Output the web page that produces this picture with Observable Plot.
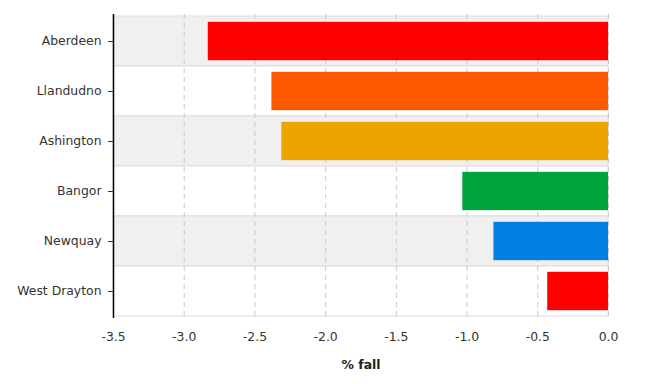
<!DOCTYPE html>
<html>
<head>
<meta charset="utf-8">
<script src="https://cdn.jsdelivr.net/npm/d3@7"></script>
<script src="https://cdn.jsdelivr.net/npm/@observablehq/plot@0.6"></script>
<style>
  html, body { margin: 0; padding: 0; background: #fff; }
  #chart svg { font-family: "DejaVu Sans", Verdana, sans-serif; }
</style>
</head>
<body>
<div id="chart"></div>
<script>
const cities = ["Aberdeen", "Llandudno", "Ashington", "Bangor", "Newquay", "West Drayton"];
const falls = [-2.83, -2.38, -2.31, -1.03, -0.81, -0.43];
const barColors = ["#ff0000", "#ff5a00", "#eba400", "#00a33d", "#0080e0", "#ff0000"];
const shaded = [true, false, true, false, true, false];
const xTicks = [-3.5, -3.0, -2.5, -2.0, -1.5, -1.0, -0.5, 0.0];
const xLabel = "% fall";

const rows = cities.map((c, i) => ({city: c, fall: falls[i], color: barColors[i], shaded: shaded[i]}));
const xMin = xTicks[0], xMax = xTicks[xTicks.length - 1];

const chart = Plot.plot({
  width: 655,
  height: 384,
  marginLeft: 113,
  marginRight: 47,
  marginTop: 14,
  marginBottom: 66,
  style: {fontSize: "12.4px", color: "#333", background: "#fff"},
  x: {domain: [xMin, xMax]},
  y: {domain: cities, padding: 0},
  marks: [
    Plot.barX(rows, {y: "city", x1: xMin, x2: xMax, fill: d => d.shaded ? "#f0f0f0" : "#ffffff", stroke: "#dedede", strokeWidth: 1}),
    Plot.ruleX(xTicks.slice(1), {stroke: "#c8c8c8", strokeDasharray: "5,4", strokeWidth: 1}),
    Plot.barX(rows, {y: "city", x1: xMax, x2: "fall", fill: "color", insetTop: 5.8, insetBottom: 5.8}),
    Plot.ruleX([xMin], {stroke: "#000", strokeWidth: 1.5}),
    Plot.axisX({ticks: xTicks, tickFormat: d => d.toFixed(1), tickSize: 0, tickPadding: 14, label: null}),
    Plot.axisY({tickSize: 5, tickPadding: 7, label: null}),
    Plot.text([xLabel], {text: d => d, frameAnchor: "bottom", dy: 47, fontWeight: "bold", fill: "#222", textAnchor: "middle", lineAnchor: "middle"})
  ]
});
document.getElementById("chart").appendChild(chart);
</script>
</body>
</html>
